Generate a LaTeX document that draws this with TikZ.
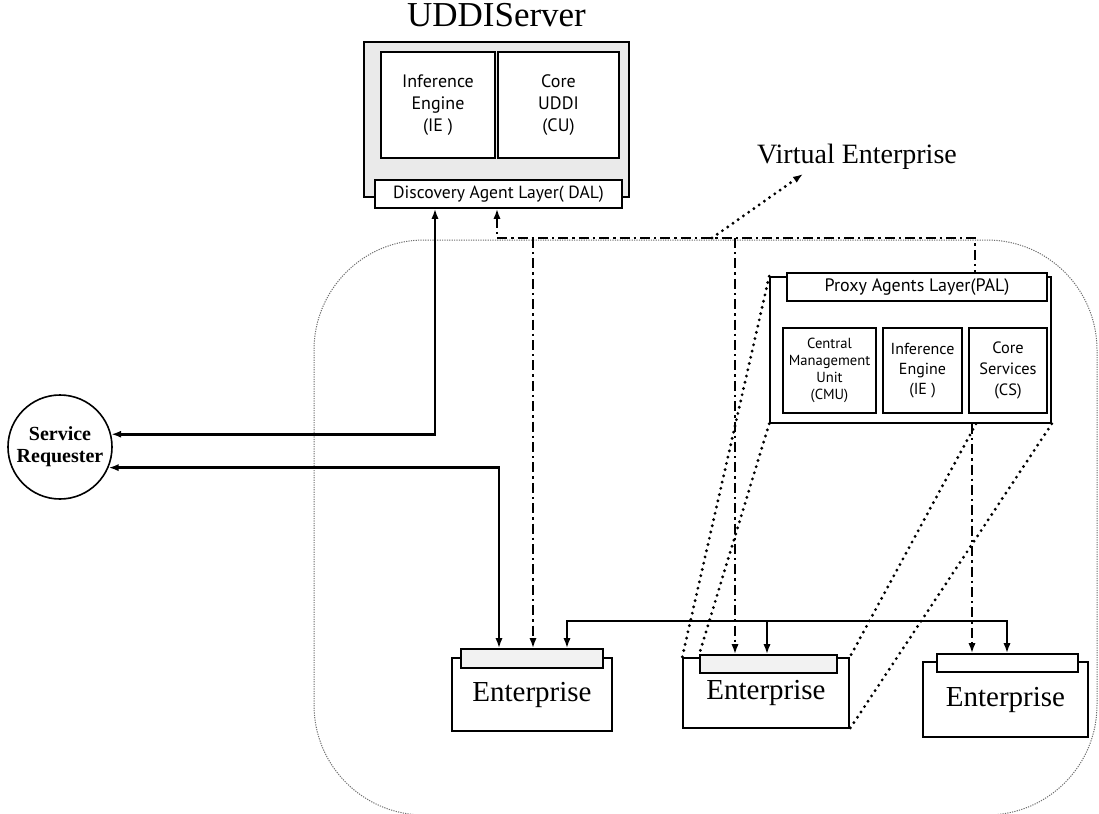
\documentclass[tikz,border=0pt]{standalone}
\usepackage{fontspec}
\setmainfont{Liberation Serif}
\newfontfamily\labelfont{PT Sans}
\definecolor{speckgray}{RGB}{234,234,234}
\definecolor{edgegray}{RGB}{110,110,110}
\usepackage{tikz}
\usetikzlibrary{arrows.meta, positioning}

\begin{document}
\begin{tikzpicture}[x=0.5pt, y=-0.5pt, >={Latex[length=5pt,width=3.6pt]},
    box/.style={rectangle, draw=black, line width=0.8pt, fill=white, inner sep=0pt, align=center},
    link/.style={line width=1.4pt},
    ctrl/.style={line width=1.4pt, dash pattern=on 5pt off 2pt on 1.2pt off 2pt},
    hint/.style={line width=1.6pt, line cap=round, dash pattern=on 0pt off 3.2pt},
    border/.style={draw=edgegray, line width=0.5pt, dash pattern=on 0.6pt off 0.6pt}]
    \useasboundingbox (0,0) rectangle (1099,814);

    % Virtual enterprise boundary
    \draw[border, rounded corners=55pt] (314,240) rectangle (1097,815);

    % UDDI server
    \node[box, fill=speckgray, minimum width=132.5pt, minimum height=77.5pt] (uddi) at (496.5,119.5) {};
    \node[above=7pt of uddi, inner sep=0pt, font=\fontsize{17.5}{20}\selectfont] (title) {UDDIServer};
    \node[box, minimum width=57pt, minimum height=53pt, font=\labelfont\fontsize{9}{11}\selectfont] (uie) at (438,105) {Inference\\Engine\\(IE )};
    \node[box, minimum width=60.5pt, minimum height=53pt, font=\labelfont\fontsize{9}{11}\selectfont] (ucu) at (558.5,105) {Core\\UDDI\\(CU)};
    \node[box, minimum width=123.5pt, minimum height=14pt, font=\labelfont\fontsize{8.8}{10}\selectfont] (dal) at (498.5,194) {Discovery Agent Layer( DAL)};

    \node[font=\fontsize{14}{16}\selectfont] (ve) at (857,157) {Virtual Enterprise};

    % Service requester
    \node[circle, draw, line width=0.8pt, minimum size=52pt, inner sep=0pt, align=center,
          font=\bfseries\fontsize{10}{11}\selectfont] (req) at (60,447) {Service\\Requester};

    % Proxy agents
    \node[box, minimum width=140.5pt, minimum height=73pt] (pal) at (910.5,350) {};
    \node[box, minimum width=130pt, minimum height=14pt, font=\labelfont\fontsize{9}{10}\selectfont] (pall) at (917,287) {Proxy Agents Layer(PAL)};
    \node[box, minimum width=46.5pt, minimum height=42.5pt, font=\labelfont\fontsize{7.3}{8.5}\selectfont] (cmu) at (829.5,370.5) {Central\\Management\\Unit\\(CMU)};
    \node[box, minimum width=39.5pt, minimum height=42.5pt, font=\labelfont\fontsize{8}{10}\selectfont] (pie) at (922.5,370.5) {Inference\\Engine\\(IE )};
    \node[box, minimum width=39pt, minimum height=42.5pt, font=\labelfont\fontsize{8.2}{10.5}\selectfont] (pcs) at (1008,370.5) {Core\\Services\\(CS)};

    % Enterprises
    \node[box, minimum width=80pt, minimum height=36.5pt, font=\fontsize{14.5}{16}\selectfont] (ent1) at (532,694.5) {Enterprise};
    \node[box, fill=speckgray!60, minimum width=71pt, minimum height=9.5pt] (tab1) at (532,658.5) {};
    \node[box, minimum width=83pt, minimum height=35pt, font=\fontsize{14.5}{16}\selectfont] (ent2) at (766,693) {Enterprise};
    \node[box, fill=speckgray!60, minimum width=68.5pt, minimum height=9pt] (tab2) at (768.5,664) {};
    \node[box, minimum width=82.5pt, minimum height=37.5pt, font=\fontsize{14.5}{16}\selectfont] (ent3) at (1005.5,699.5) {Enterprise};
    \node[box, minimum width=70.5pt, minimum height=9pt] (tab3) at (1007.5,663) {};

    \coordinate (dl) at (497,238);
    \coordinate (dr) at (975,238);
    \coordinate (busl) at (567,621);
    \coordinate (busr) at (1007,621);
    \coordinate (vtip) at (803,174);

    % requester links
    \draw[link, <->] (dal.south -| 435,0) |- (req.14);
    \draw[link, <->] (req.-23) -| (tab1.north -| 499,0);

    % enterprise bus
    \draw[link, <->] (tab1.north -| busl) -- (busl) -- (busr) -- (tab3.north -| busr);
    \draw[link, ->] (busl -| 767,0) -- (tab2.north -| 767,0);

    % discovery links
    \draw[ctrl, <-] (dal.south -| dl) -- (dl) -- (dr) -- (pall.north -| dr);
    \draw[ctrl, ->] (dl -| 533,0) -- (tab1.north -| 533,0);
    \draw[ctrl, ->] (dl -| 735,0) -- (tab2.north -| 735,0);
    \draw[ctrl, ->] (pal.south -| 972,0) -- (tab3.north -| 972,0);

    \draw[hint, ->] (dl -| 712,0) -- (vtip);

    % zoom of the middle enterprise
    \draw[hint] (pal.north west) -- (ent2.north west);
    \draw[hint] (pal.south west) -- (tab2.north west);
    \draw[hint] (pal.south -| 976,0) -- (ent2.north east);
    \draw[hint] (pal.south east) -- (ent2.south east);
\end{tikzpicture}
\end{document}
